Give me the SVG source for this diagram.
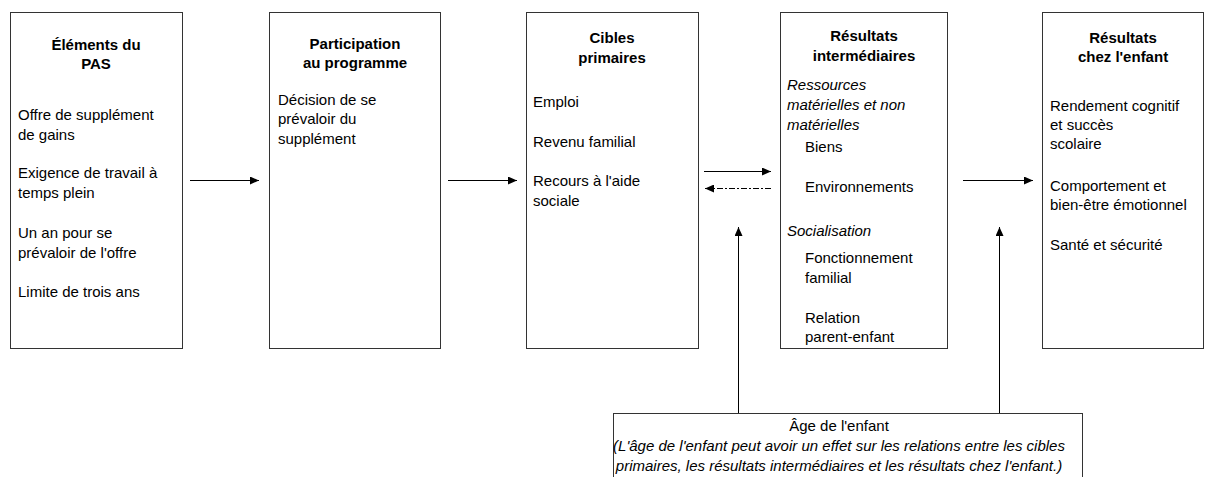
<svg xmlns="http://www.w3.org/2000/svg" width="1205" height="477" viewBox="0 0 1205 477">
<style>
text{font-family:"Liberation Sans",Arial,sans-serif;font-size:15px;fill:#000}
.t{font-weight:bold;text-anchor:middle}
.i{font-style:italic}
.c{text-anchor:middle}
.box{fill:#fff;stroke:#333;stroke-width:1}
.ln{stroke:#000;stroke-width:1;fill:none}
</style>
<defs>
<marker id="ah" markerWidth="9" markerHeight="8" refX="9" refY="4" orient="auto" markerUnits="userSpaceOnUse">
<path d="M0,0 L9,4 L0,8 Z" fill="#000"/>
</marker>
</defs>
<g id="n1">
<rect class="box" x="10.5" y="12.5" width="172" height="336"/>
<text class="t" x="96" y="50">Éléments du</text>
<text class="t" x="96" y="69">PAS</text>
<text x="18" y="120">Offre de supplément</text>
<text x="18" y="140">de gains</text>
<text x="18" y="178">Exigence de travail à</text>
<text x="18" y="198">temps plein</text>
<text x="18" y="238">Un an pour se</text>
<text x="18" y="258">prévaloir de l'offre</text>
<text x="18" y="297">Limite de trois ans</text>
</g>
<g id="n2">
<rect class="box" x="269.5" y="12.5" width="171" height="336"/>
<text class="t" x="355" y="49">Participation</text>
<text class="t" x="355" y="68">au programme</text>
<text x="278" y="105">Décision de se</text>
<text x="278" y="124">prévaloir du</text>
<text x="278" y="144">supplément</text>
</g>
<g id="n3">
<rect class="box" x="526.5" y="12.5" width="172" height="336"/>
<text class="t" x="612" y="43">Cibles</text>
<text class="t" x="612" y="63">primaires</text>
<text x="533" y="107">Emploi</text>
<text x="533" y="147">Revenu familial</text>
<text x="533" y="186">Recours à l'aide</text>
<text x="533" y="206">sociale</text>
</g>
<g id="n4">
<rect class="box" x="780.5" y="12.5" width="167" height="336"/>
<text class="t" x="864" y="41">Résultats</text>
<text class="t" x="864" y="61">intermédiaires</text>
<text class="i" x="787" y="90">Ressources</text>
<text class="i" x="787" y="110">matérielles et non</text>
<text class="i" x="787" y="130">matérielles</text>
<text x="805" y="152">Biens</text>
<text x="805" y="192">Environnements</text>
<text class="i" x="787" y="236">Socialisation</text>
<text x="805" y="263">Fonctionnement</text>
<text x="805" y="283">familial</text>
<text x="805" y="323">Relation</text>
<text x="805" y="342">parent-enfant</text>
</g>
<g id="n5">
<rect class="box" x="1042.5" y="12.5" width="161" height="336"/>
<text class="t" x="1123" y="43">Résultats</text>
<text class="t" x="1123" y="62">chez l'enfant</text>
<text x="1050" y="111">Rendement cognitif</text>
<text x="1050" y="130">et succès</text>
<text x="1050" y="149">scolaire</text>
<text x="1050" y="191">Comportement et</text>
<text x="1050" y="210">bien-être émotionnel</text>
<text x="1050" y="250">Santé et sécurité</text>
</g>
<g id="n6">
<rect class="box" x="613.5" y="413.5" width="469" height="80"/>
<text class="c" x="839" y="431">Âge de l'enfant</text>
<text class="c i" x="839" y="451">(L'âge de l'enfant peut avoir un effet sur les relations entre les cibles</text>
<text class="c i" x="839" y="471">primaires, les résultats intermédiaires et les résultats chez l'enfant.)</text>
</g>
<g id="connectors">
<line class="ln" x1="190" y1="180.5" x2="259" y2="180.5" marker-end="url(#ah)"/>
<line class="ln" x1="448" y1="180.5" x2="517" y2="180.5" marker-end="url(#ah)"/>
<line class="ln" x1="704" y1="171.5" x2="771" y2="171.5" marker-end="url(#ah)"/>
<line class="ln" x1="771" y1="188.5" x2="705" y2="188.5" stroke-dasharray="6 2 2 2" marker-end="url(#ah)"/>
<line class="ln" x1="963" y1="180.5" x2="1033" y2="180.5" marker-end="url(#ah)"/>
<line class="ln" x1="738.5" y1="413" x2="738.5" y2="227" marker-end="url(#ah)"/>
<line class="ln" x1="999.5" y1="413" x2="999.5" y2="227" marker-end="url(#ah)"/>
</g>
</svg>
